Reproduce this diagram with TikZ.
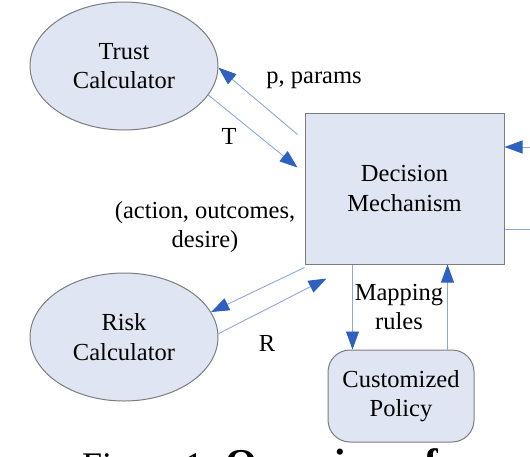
\documentclass[tikz,border=0pt]{standalone}
\usepackage{fontspec}
\setmainfont{Liberation Serif}
\usetikzlibrary{shapes.geometric,arrows.meta}
\definecolor{boxfill}{RGB}{223,229,243}
\definecolor{boxline}{RGB}{125,125,125}
\definecolor{flowline}{RGB}{140,168,218}
\definecolor{flowtip}{RGB}{46,96,192}

\begin{document}
\begin{tikzpicture}[x=1pt,y=-1pt,
	txt/.style={font=\fontsize{24.5}{29.5}\selectfont, align=center, inner sep=0pt},
	calc/.style={txt, shape=ellipse, draw=boxline, fill=boxfill, line width=1pt, minimum width=188pt, minimum height=128pt},
	unit/.style={txt, shape=rectangle, draw=boxline, fill=boxfill, line width=1pt},
	flow/.style={draw=flowline, line width=0.9pt, -{Triangle[length=18pt,width=13pt,color=flowtip]}}]
		\useasboundingbox (0,0) rectangle (530,456);
		\clip (0,0) rectangle (530,456);
		\node[name=trust, calc] at (124,66) {Trust\\Calculator};
		\node[name=risk, calc] at (124,337) {Risk\\Calculator};
		\node[name=dm, unit, minimum width=199pt, minimum height=151pt] at (404.5,188.5) {Decision\\Mechanism};
		\node[name=pol, unit, rounded corners=22pt, minimum width=146pt, minimum height=92pt] at (401,396) {Customized\\Policy};
		\coordinate (feedin) at (540,147);
		\coordinate (feedout) at (540,229);
		% trust calculator
		\draw[flow] ([xshift=-7pt,yshift=-22pt]dm.north west) -- (trust.-1);
		\draw[flow] (trust.-19) -- ([xshift=-7pt,yshift=-55pt]dm.north west);
		\node[name=plabel, txt] at (314,80) {p, params};
		\node[name=tlabel, txt] at (229,136) {T};
		\node[name=aolabel, txt] at (205,227) {(action, outcomes,\\desire)};
		% risk calculator
		\draw[flow] ([yshift=-3pt]dm.south west) -- (risk.16);
		\draw[flow] (risk.2) -- ([xshift=22pt,yshift=-14pt]dm.south west);
		\node[name=rlabel, txt] at (267,343) {R};
		% policy
		\draw[flow] ([xshift=48pt]dm.south west) -- ([xshift=48pt]dm.south west |- pol.north);
		\draw[flow] ([xshift=143pt]dm.south west |- pol.north) -- ([xshift=143pt]dm.south west);
		\node[name=maplabel, txt] at (399,307) {Mapping\\rules};
		% right side
		\draw[flow] (feedin) -- (dm.east |- feedin);
		\draw[draw=flowline, line width=0.9pt] (dm.east |- feedout) -- (feedout);
		\node[name=caption, anchor=base west, inner sep=0pt, font=\fontsize{36}{40}\selectfont] at (82,477) {Figure 1: {\fontsize{41}{44}\selectfont\textbf{Overview of}}};
	\end{tikzpicture}
\end{document}
